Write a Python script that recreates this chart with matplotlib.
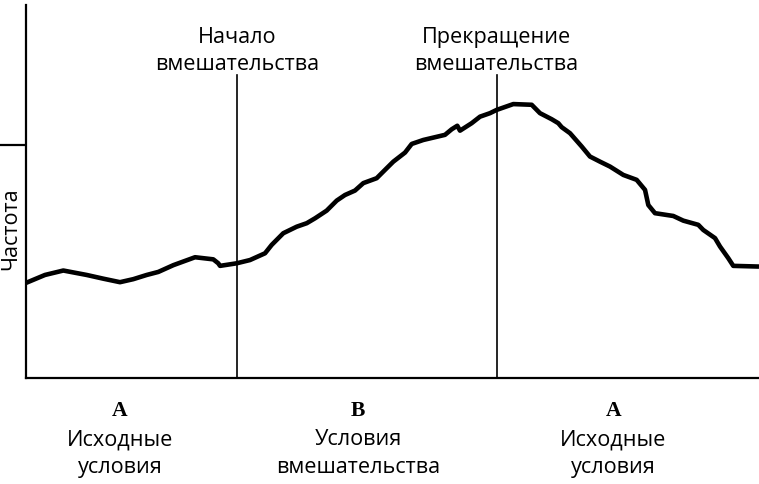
import matplotlib
matplotlib.use("Agg")
import matplotlib.pyplot as plt
import matplotlib.transforms as mtransforms

# Data (time in arbitrary units 0-100, frequency units)
time = [0.0, 2.59, 5.09, 8.28, 10.55, 12.82, 14.64, 16.47, 18.05, 20.10, 23.06,
        25.55, 26.23, 26.47, 28.74, 30.56, 32.61, 33.52, 35.10, 36.93, 38.30,
        39.43, 41.02, 42.39, 43.52, 44.88, 46.02, 47.84, 49.21, 50.11, 51.71,
        52.62, 54.20, 57.16, 58.08, 58.84, 59.21, 60.80, 61.94, 63.30, 64.21,
        66.48, 68.99, 70.12, 71.72, 72.62, 73.08, 74.22, 75.81, 76.94, 78.31,
        79.67, 81.49, 83.31, 84.45, 84.90, 85.81, 88.31, 89.67, 91.72, 92.40,
        94.00, 94.68, 95.81, 96.49, 100.0]
frequency = [4.08, 4.42, 4.61, 4.42, 4.26, 4.11, 4.24, 4.42, 4.55, 4.84, 5.18,
             5.09, 4.92, 4.81, 4.92, 5.06, 5.35, 5.71, 6.21, 6.49, 6.64,
             6.85, 7.18, 7.61, 7.85, 8.04, 8.36, 8.57, 9.00, 9.28, 9.67,
             10.04, 10.21, 10.43, 10.67, 10.82, 10.61, 10.93, 11.21, 11.36, 11.50,
             11.75, 11.72, 11.36, 11.10, 10.93, 10.76, 10.50, 9.93, 9.50, 9.28,
             9.07, 8.71, 8.50, 8.07, 7.42, 7.07, 6.95, 6.75, 6.57, 6.35,
             6.00, 5.64, 5.14, 4.81, 4.78]

phase_lines = [28.8, 64.2]
phase_line_labels = [("Начало", "вмешательства"), ("Прекращение", "вмешательства")]
phase_centers = [12.8, 45.3, 80.1]
phase_letters = ["A", "B", "A"]
phase_names = [("Исходные", "условия"), ("Условия", "вмешательства"),
               ("Исходные", "условия")]
y_ticks = [10]
y_label = "Частота"

plt.rcParams['font.family'] = ['Open Sans', 'DejaVu Sans']
FS = 15.6
W, H = 759, 484

fig = plt.figure(figsize=(W / 100, H / 100), dpi=100)
ax = fig.add_axes([26 / W, 106 / H, 733 / W, 373 / H])
ax.set_xlim(0, 100)
ax.set_ylim(0, 16.0)

ax.plot(time, frequency, color='black', lw=3.3, solid_joinstyle='round',
        solid_capstyle='butt')

trans = mtransforms.blended_transform_factory(ax.transData, fig.transFigure)

for xv, lines in zip(phase_lines, phase_line_labels):
    ax.plot([xv, xv], [0, 13.0], color='black', lw=1.2)
    for line, py in zip(lines, [43, 70]):
        fig.text(xv, 1 - py / H, line, transform=trans, ha='center',
                 va='baseline', fontsize=FS)

for s in ['top', 'right']:
    ax.spines[s].set_visible(False)
for s in ['left', 'bottom']:
    ax.spines[s].set_linewidth(1.6)
ax.set_xticks([])
ax.set_yticks(y_ticks)
ax.set_yticklabels([])
ax.tick_params(axis='y', length=23, width=1.6, direction='out')

fig.text(10.5 / W, 1 - 229 / H, y_label, rotation=90, ha='center', va='center',
         fontsize=FS)

for xc, let, lines in zip(phase_centers, phase_letters, phase_names):
    fig.text(xc, 1 - 416.5 / H, let, transform=trans, ha='center',
             va='baseline', fontsize=FS, fontweight='bold',
             family='Liberation Serif')
    for line, py in zip(lines, [445, 473]):
        fig.text(xc, 1 - py / H, line, transform=trans, ha='center',
                 va='baseline', fontsize=FS)

fig.savefig('out.png', dpi=100)
